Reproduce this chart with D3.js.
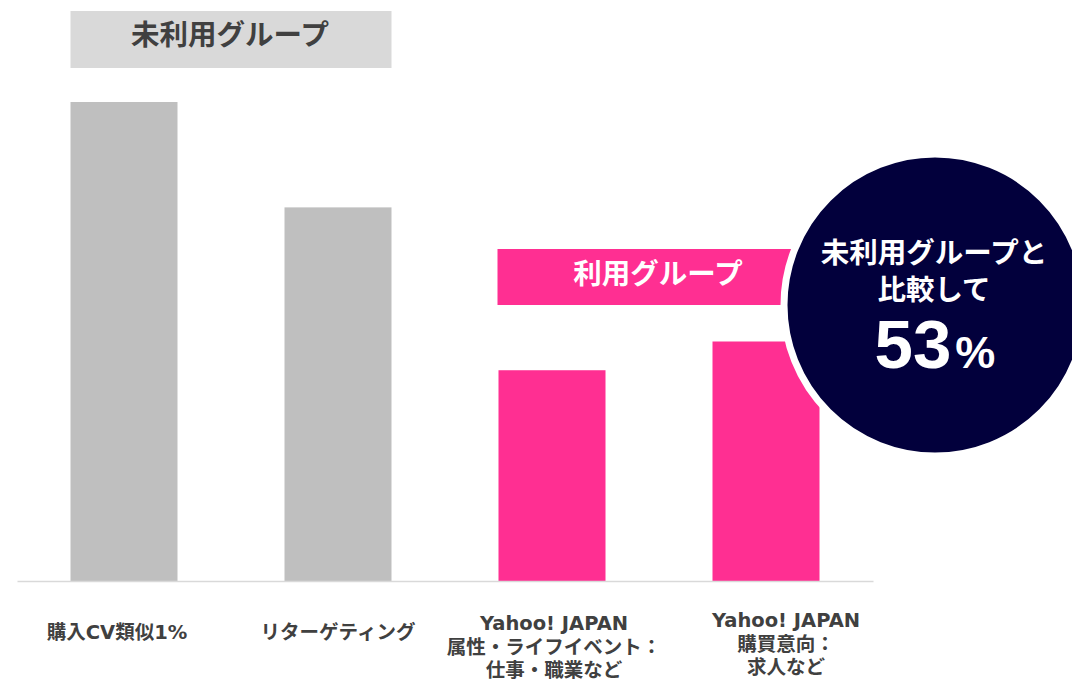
<!DOCTYPE html>
<html>
<head>
<meta charset="utf-8">
<script src="https://cdn.jsdelivr.net/npm/d3@7"></script>
<style>
  html, body { margin: 0; padding: 0; background: #fff; }
  svg { display: block; }
</style>
</head>
<body>
<svg id="chart" width="1072" height="684"></svg>
<script>
// ---- data ----
const categories = ["購入CV類似1%", "リターゲティング", "Yahoo! JAPAN 属性", "Yahoo! JAPAN 購買意向"];
const categoryLabels = [
  ["購入CV類似1%"],
  ["リターゲティング"],
  ["Yahoo! JAPAN", "属性・ライフイベント：", "仕事・職業など"],
  ["Yahoo! JAPAN", "購買意向：", "求人など"]
];
const values = [100, 78, 44, 50];
const groups = ["未利用", "未利用", "利用", "利用"];
const groupTitles = ["未利用グループ", "利用グループ"];
const badgeLines = ["未利用グループと", "比較して"];
const badgeValue = "53";
const badgeUnit = "%";

// ---- layout ----
const W = 1072, H = 684;
const svg = d3.select("#chart");
const font = "'Noto Sans CJK JP', 'Noto Sans', sans-serif";
const labelFont = "'DejaVu Sans', 'Noto Sans CJK JP', sans-serif";
const colors = { "未利用": "#bfbfbf", "利用": "#ff2f92" };

const x = d3.scaleBand().domain(categories).range([17, 873]).paddingInner(0.5).paddingOuter(0.25);
const y = d3.scaleLinear().domain([0, 100]).range([581, 102]);

// bars
svg.append("g").selectAll("rect").data(values).join("rect")
  .attr("x", (d, i) => x(categories[i]))
  .attr("y", d => y(d))
  .attr("width", x.bandwidth())
  .attr("height", d => y(0) - y(d))
  .attr("fill", (d, i) => colors[groups[i]]);

// axis
const axis = svg.append("g").attr("transform", `translate(0,${y(0)})`)
  .call(d3.axisBottom(x).tickSize(0).tickSizeOuter(0).tickFormat(""));
axis.select(".domain").attr("stroke", "#d9d9d9").attr("stroke-width", 1.5);

// tick labels (multi-line)
const labelDx = [-7, 0, 2, 20];
const labelG = svg.append("g");
categoryLabels.forEach((lines, i) => {
  const cx = x(categories[i]) + x.bandwidth() / 2 + labelDx[i];
  const t = labelG.append("text")
    .attr("text-anchor", "middle")
    .attr("font-family", labelFont)
    .attr("font-weight", "bold")
    .attr("font-size", 19.5)
    .attr("fill", "#404040");
  const y0 = lines.length === 1 ? 639 : (i === 3 ? 627 : 630);
  lines.forEach((ln, j) => {
    t.append("tspan").attr("x", cx).attr("y", y0 + j * 23.5).text(ln);
  });
});

// group title boxes
const g1x0 = x(categories[0]), g1x1 = x(categories[1]) + x.bandwidth();
svg.append("rect").attr("x", g1x0).attr("y", 11).attr("width", g1x1 - g1x0).attr("height", 57).attr("fill", "#d9d9d9");
svg.append("text").attr("x", (g1x0 + g1x1) / 2 - 1).attr("y", 45)
  .attr("text-anchor", "middle").attr("font-family", font).attr("font-weight", "bold")
  .attr("font-size", 28.5).attr("fill", "#404040").text(groupTitles[0]);

const g2x0 = x(categories[2]) - 1;
svg.append("rect").attr("x", g2x0).attr("y", 249).attr("width", 320).attr("height", 56).attr("fill", "#ff2f92");
svg.append("text").attr("x", 658).attr("y", 284)
  .attr("text-anchor", "middle").attr("font-family", font).attr("font-weight", "bold")
  .attr("font-size", 28.5).attr("fill", "#ffffff").text(groupTitles[1]);

// badge circle
const cx = 935, cy = 305, r = 151;
svg.append("circle").attr("cx", cx).attr("cy", cy).attr("r", r)
  .attr("fill", "#02003c").attr("stroke", "#ffffff").attr("stroke-width", 7);
badgeLines.forEach((ln, j) => {
  svg.append("text").attr("x", cx - 1).attr("y", 263 + j * 37)
    .attr("text-anchor", "middle").attr("font-family", font).attr("font-weight", "bold")
    .attr("font-size", 28.5).attr("fill", "#ffffff").text(ln);
});
const big = svg.append("text").attr("x", cx).attr("y", 368)
  .attr("text-anchor", "middle").attr("font-family", "'Liberation Sans', Arial, sans-serif")
  .attr("font-weight", "bold").attr("fill", "#ffffff");
big.append("tspan").attr("font-size", 69).text(badgeValue);
big.append("tspan").attr("font-size", 45).attr("dx", 4).text(badgeUnit);
</script>
</body>
</html>
